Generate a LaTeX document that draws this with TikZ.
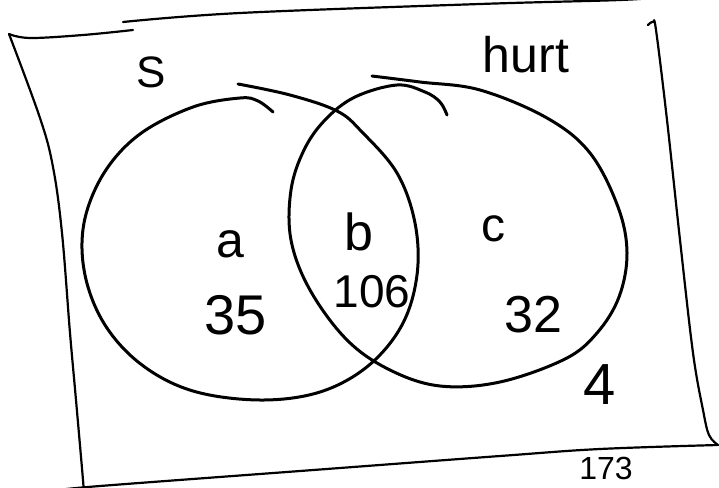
\documentclass[tikz,border=0pt]{standalone}
\usepackage{fontspec}
\setmainfont{Liberation Sans}
\tikzset{
  frameline/.style={line width=2.2pt, line cap=round, line join=round},
  circline/.style={line width=3pt, line cap=round, line join=round},
  lbl/.style={inner sep=0pt, outer sep=0pt},
}
\begin{document}
\begin{tikzpicture}[x=1pt,y=-1pt]
\useasboundingbox (0,0) rectangle (719,487);
\fill[white] (0,0) rectangle (719,487);
% frame
\draw[frameline] plot[smooth, tension=0.6] coordinates {(9,34) (30,38) (83,35) (133,30)};
\draw[frameline] plot[smooth, tension=0.6] coordinates {(123,22) (240,13) (480,4) (620,0) (660,-3)};
\draw[frameline] plot[smooth, tension=0.6] coordinates {(648,25) (653,22) (656,30) (667,120) (680,240) (693,353) (703,410) (709,435) (718,445)};
\draw[frameline] plot[smooth, tension=0.6] coordinates {(718,445) (600,449) (500,456) (300,471) (100,486) (60,490)};
\draw[frameline] plot[smooth, tension=0.6] coordinates {(9,34) (40,118) (53,167) (62,233) (70,333) (76,400) (83,480) (84,495)};
% left circle
\draw[circline] plot[smooth, tension=0.6] coordinates {
 (238,84) (290,95) (337,111) (362,132) (397,173) (415,223) (417,275) (402,325) (368,366) (320,392) (260,400)
 (193,391) (142,365) (105,325) (85,275) (84,223) (104,173) (140,134) (193,107) (240,98) (258,101) (273,112)};
% right circle
\draw[circline] plot[smooth, tension=0.6] coordinates {
 (372,76) (420,82) (480,90) (547,118) (590,153) (618,207) (627,253) (619,297) (597,333) (565,359) (500,382)
 (440,386) (390,370) (347,340) (310,290) (291,240) (291,190) (304,150) (325,120) (355,97) (397,85) (425,92) (440,102) (447,115)};
% labels
\node[lbl, font=\fontsize{44}{44}\selectfont] (s) at (151,72) {S};
\node[lbl, font=\fontsize{50}{50}\selectfont] (hurt) at (526,55) {hurt};
\node[lbl, font=\fontsize{50}{50}\selectfont] (a) at (230,244) {a};
\node[lbl, font=\fontsize{52}{52}\selectfont] (b) at (359,232) {b};
\node[lbl, font=\fontsize{48}{48}\selectfont] (c) at (493,229) {c};
\node[lbl, font=\fontsize{56}{56}\selectfont] (n35) at (236,315) {35};
\node[lbl, font=\fontsize{46}{46}\selectfont] (n106) at (372,292) {106};
\node[lbl, font=\fontsize{52}{52}\selectfont] (n32) at (533,315) {32};
\node[lbl, font=\fontsize{58}{58}\selectfont] (n4) at (600,385) {4};
\node[lbl, font=\fontsize{32}{32}\selectfont, anchor=base] (n173) at (606,479) {173};
\end{tikzpicture}
\end{document}
